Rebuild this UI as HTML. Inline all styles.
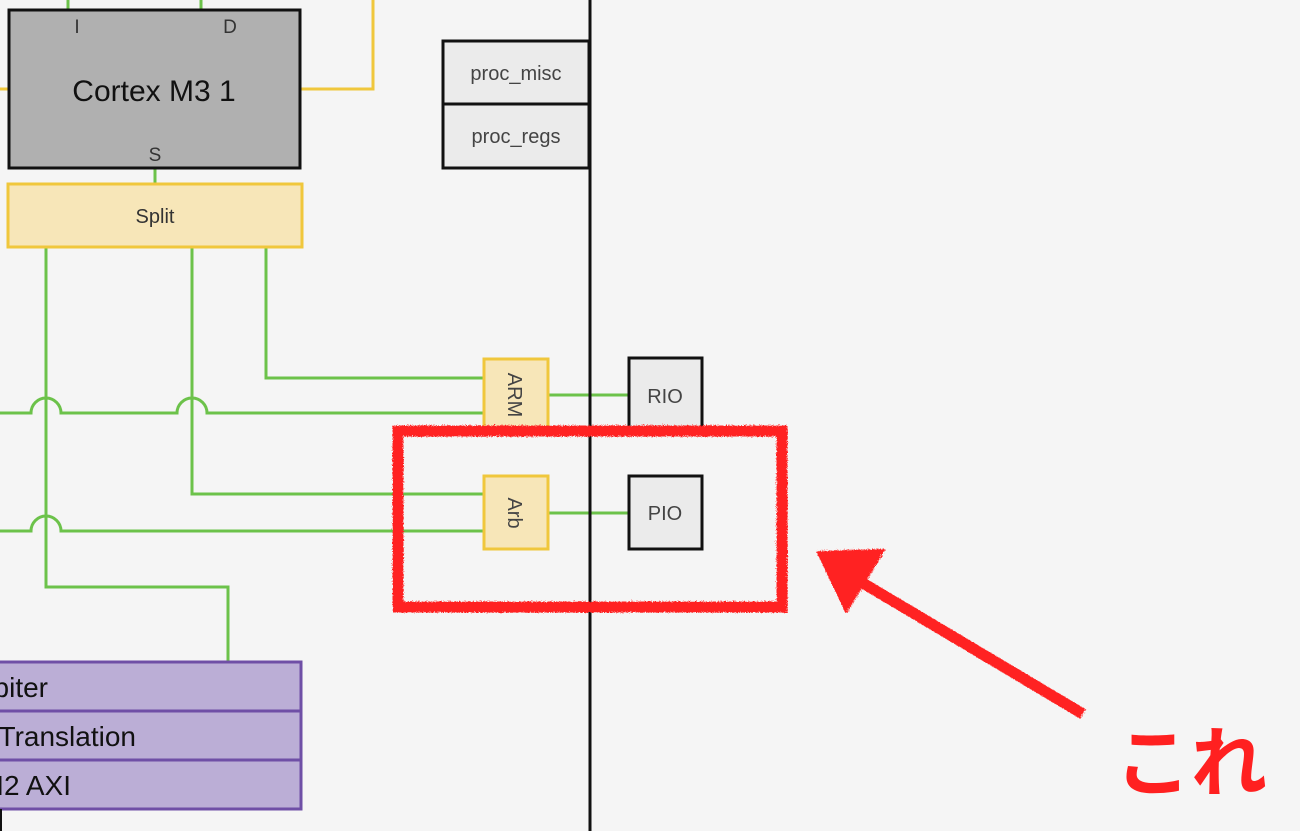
<!DOCTYPE html>
<html><head><meta charset="utf-8"><style>
html,body{margin:0;padding:0;background:#f5f5f5;}
svg{display:block}
text{font-family:"Liberation Sans","Noto Sans CJK JP",sans-serif;}
</style></head><body>
<svg width="1300" height="831" viewBox="0 0 1300 831" xmlns="http://www.w3.org/2000/svg">
<rect width="1300" height="831" fill="#f5f5f5"/>
<defs>
<filter id="rough"><feTurbulence baseFrequency="0.9" numOctaves="2" result="n"/><feDisplacementMap in="SourceGraphic" in2="n" scale="4"/></filter>
</defs>
<g stroke="#6cc24a" stroke-width="3" fill="none">
<line x1="68" y1="0" x2="68" y2="9"/>
<line x1="201" y1="0" x2="201" y2="9"/>
<line x1="155" y1="168" x2="155" y2="184"/>
<polyline points="46,247 46,587 228,587 228,661"/>
<polyline points="192,247 192,494 484,494"/>
<polyline points="266,247 266,378 484,378"/>
<path d="M0,413 H31 A15,15 0 0 1 61,413 H177 A15,15 0 0 1 207,413 H484"/>
<path d="M0,531 H31 A15,15 0 0 1 61,531 H484"/>
<line x1="548" y1="395" x2="628" y2="395"/>
<line x1="548" y1="513" x2="628" y2="513"/>
</g>
<g stroke="#f0c73c" stroke-width="3" fill="none">
<line x1="0" y1="89" x2="8" y2="89"/>
<polyline points="300,89 373,89 373,0"/>
</g>
<rect x="9" y="10" width="291" height="158" fill="#b0b0b0" stroke="#111" stroke-width="3"/>
<text x="154" y="101" font-size="30" text-anchor="middle" fill="#111">Cortex M3 1</text>
<text x="77" y="33" font-size="19" text-anchor="middle" fill="#333">I</text>
<text x="230" y="33" font-size="19" text-anchor="middle" fill="#333">D</text>
<text x="155" y="161" font-size="19" text-anchor="middle" fill="#333">S</text>
<rect x="8" y="184" width="294" height="63" fill="#f7e6b8" stroke="#f0c73c" stroke-width="3"/>
<text x="155" y="223" font-size="20" text-anchor="middle" fill="#333">Split</text>
<rect x="443" y="41" width="146" height="63" fill="#ebebeb" stroke="#111" stroke-width="3"/>
<rect x="443" y="104" width="146" height="64" fill="#ebebeb" stroke="#111" stroke-width="3"/>
<text x="516" y="80" font-size="20" text-anchor="middle" fill="#444">proc_misc</text>
<text x="516" y="143" font-size="20" text-anchor="middle" fill="#444">proc_regs</text>
<line x1="590" y1="0" x2="590" y2="831" stroke="#111" stroke-width="3"/>
<rect x="484" y="359" width="64" height="73" fill="#f7e6b8" stroke="#f0c73c" stroke-width="3"/>
<text transform="translate(508,395) rotate(90)" font-size="20" text-anchor="middle" fill="#444">ARM</text>
<rect x="484" y="476" width="64" height="73" fill="#f7e6b8" stroke="#f0c73c" stroke-width="3"/>
<text transform="translate(508,513) rotate(90)" font-size="20" text-anchor="middle" fill="#444">Arb</text>
<rect x="629" y="358" width="73" height="74" fill="#ebebeb" stroke="#111" stroke-width="3"/>
<text x="665" y="403" font-size="20" text-anchor="middle" fill="#444">RIO</text>
<rect x="629" y="476" width="73" height="73" fill="#ebebeb" stroke="#111" stroke-width="3"/>
<text x="665" y="520" font-size="20" text-anchor="middle" fill="#444">PIO</text>
<g fill="#bbaed6" stroke="#6f4fa6" stroke-width="3">
<rect x="-5" y="662" width="306" height="49"/>
<rect x="-5" y="711" width="306" height="49"/>
<rect x="-5" y="760" width="306" height="49"/>
</g>
<g font-size="28" fill="#111" text-anchor="end">
<text x="48" y="697">Arbiter</text>
<text x="136" y="746">Translation</text>
<text x="71" y="795">AXI2 AXI</text>
</g>
<line x1="1" y1="809" x2="1" y2="831" stroke="#111" stroke-width="2"/>
<g filter="url(#rough)">
<rect x="397" y="430" width="384" height="176" fill="none" stroke="#ff2020" stroke-width="11"/>
<line x1="1082" y1="713" x2="850" y2="575" stroke="#ff2020" stroke-width="11"/>
<polygon points="815,550 885,548 845,613" fill="#ff2020"/>
</g>
<text x="1115" y="790" font-size="76" font-weight="bold" fill="#ff2020" font-family="'Noto Sans CJK JP',sans-serif">これ</text>
</svg>
</body></html>
